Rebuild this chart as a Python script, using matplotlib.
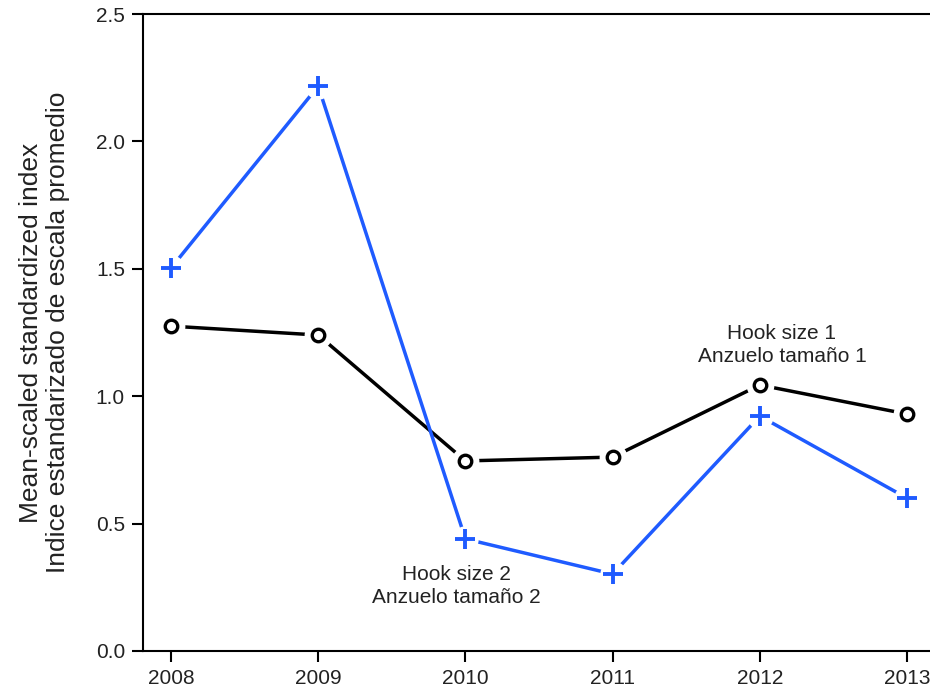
import numpy as np
import matplotlib
matplotlib.use('Agg')
import matplotlib.pyplot as plt

plt.rcParams['font.family'] = ['Liberation Sans', 'DejaVu Sans']

# data
years = [2008, 2009, 2010, 2011, 2012, 2013]
hook1 = [1.275, 1.240, 0.746, 0.761, 1.044, 0.930]
hook2 = [1.503, 2.217, 0.440, 0.302, 0.922, 0.600]
yticks = [0.0, 0.5, 1.0, 1.5, 2.0, 2.5]

blue = '#1f5bff'
txt = '#222222'

fig = plt.figure(figsize=(9.3, 6.95), dpi=100)
ax = fig.add_axes([143/930, 44/695, 807/930, 637/695])

# R type="b" look: line, white disc to cut a gap, then the marker
ax.plot(years, hook1, color='black', lw=2.5, zorder=2, clip_on=False)
ax.plot(years, hook1, ls='none', marker='o', ms=20, mfc='white', mec='none', zorder=3, clip_on=False)
ax.plot(years, hook1, ls='none', marker='o', ms=9, mfc='white', mec='black', mew=2.4, zorder=4, clip_on=False)

ax.plot(years, hook2, color=blue, lw=2.5, zorder=2, clip_on=False)
ax.plot(years, hook2, ls='none', marker='o', ms=19, mfc='white', mec='none', zorder=3, clip_on=False)
ax.plot(years, hook2, ls='none', marker='+', ms=14, mec=blue, mew=2.8, zorder=4, clip_on=False)

ax.text(2012.15, 1.20, 'Hook size 1\nAnzuelo tamaño 1', ha='center', va='center',
        fontsize=15, color=txt, linespacing=1.3)
ax.text(2009.94, 0.255, 'Hook size 2\nAnzuelo tamaño 2', ha='center', va='center',
        fontsize=15, color=txt, linespacing=1.3)

ax.set_xlim(2008 - 28/147.2, 2008 - 28/147.2 + 807/147.2)
ax.set_ylim(0, 2.5)
ax.set_xticks(years)
ax.set_yticks(yticks)
ax.set_yticklabels(['%.1f' % v for v in yticks])
ax.tick_params(axis='both', length=8, width=1.5, direction='out', labelsize=15,
               labelcolor=txt, pad=5)
for s in ax.spines.values():
    s.set_linewidth(1.5)

ax.set_ylabel('Mean-scaled standardized index\nIndice estandarizado de escala promedio',
              fontsize=19, color=txt, linespacing=1.2)
ax.yaxis.set_label_coords(-0.09, 0.5)

fig.savefig('out.png', dpi=100)
